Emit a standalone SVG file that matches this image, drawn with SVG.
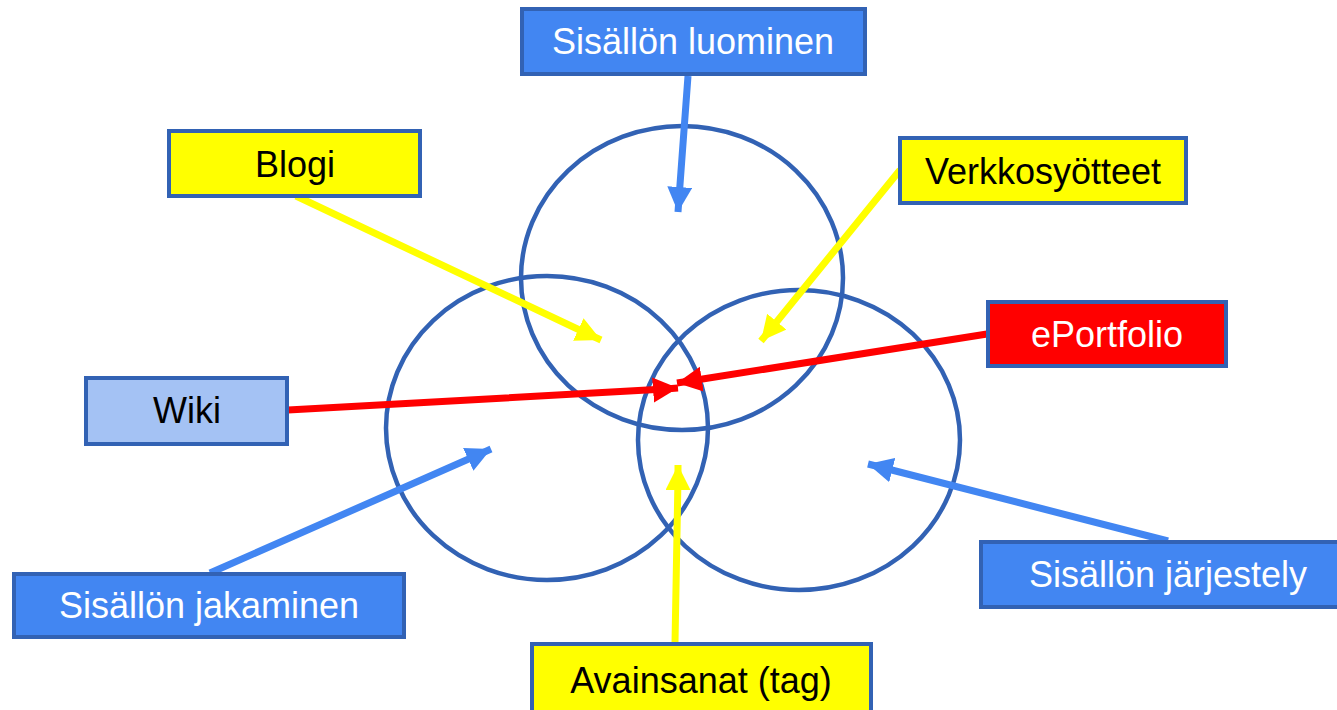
<svg xmlns="http://www.w3.org/2000/svg" width="1337" height="710" viewBox="0 0 1337 710">
  <style>
    .ring { fill: none; stroke: #3262b4; stroke-width: 4.5; }
    .box { stroke: #3262b4; stroke-width: 4; }
    .blue { fill: #4286f2; }
    .yellow { fill: #ffff00; }
    .red { fill: #ff0000; }
    .pale { fill: #a4c2f4; }
    .lbl { font-family: "Liberation Sans", Arial, sans-serif; font-size: 36px; text-anchor: middle; }
    .dark { fill: #000000; }
    .light { fill: #ffffff; }
    .arr { fill: none; stroke-width: 7; }
    .a-blue { stroke: #4286f2; marker-end: url(#head-blue); }
    .a-yellow { stroke: #ffff00; marker-end: url(#head-yellow); }
    .a-red { stroke: #ff0000; marker-end: url(#head-red); }
  </style>
  <defs>
    <marker id="head-blue" markerUnits="userSpaceOnUse" markerWidth="26" markerHeight="26" refX="25" refY="12.5" orient="auto">
      <path d="M0,0 L25,12.5 L0,25 Z" fill="#4286f2"/>
    </marker>
    <marker id="head-yellow" markerUnits="userSpaceOnUse" markerWidth="26" markerHeight="26" refX="25" refY="12.5" orient="auto">
      <path d="M0,0 L25,12.5 L0,25 Z" fill="#ffff00"/>
    </marker>
    <marker id="head-red" markerUnits="userSpaceOnUse" markerWidth="26" markerHeight="26" refX="25" refY="12.5" orient="auto">
      <path d="M0,0 L25,12.5 L0,25 Z" fill="#ff0000"/>
    </marker>
  </defs>

  <!-- three overlapping rings -->
  <g id="rings">
    <ellipse class="ring" cx="682" cy="278" rx="161" ry="152"/>
    <ellipse class="ring" cx="547" cy="428" rx="161" ry="152"/>
    <ellipse class="ring" cx="799" cy="440" rx="161" ry="150"/>
  </g>

  <!-- connectors: line runs under its head, tip sits at the path end -->
  <g id="connectors">
    <path class="arr a-blue" d="M688,76 L679,198 L678,212"/>
    <path class="arr a-yellow" d="M296,196 L588,334 L601,340"/>
    <path class="arr a-yellow" d="M900,170 L770,330 L761,341"/>
    <path class="arr a-red" d="M987,334 L690,381 L677,383"/>
    <path class="arr a-red" d="M288,410 L665,389 L678,388"/>
    <path class="arr a-blue" d="M210,573 L480,454 L491,449"/>
    <path class="arr a-yellow" d="M675,643 L678,478 L678,465"/>
    <path class="arr a-blue" d="M1168,541 L880,467 L868,464"/>
  </g>

  <g id="node-luominen">
    <rect class="box blue" x="522" y="9" width="343" height="65"/>
    <text class="lbl light" x="693" y="54">Sisällön luominen</text>
  </g>
  <g id="node-blogi">
    <rect class="box yellow" x="169" y="131" width="251" height="65"/>
    <text class="lbl dark" x="295" y="177">Blogi</text>
  </g>
  <g id="node-verkkosyotteet">
    <rect class="box yellow" x="900" y="138" width="286" height="65"/>
    <text class="lbl dark" x="1043" y="184">Verkkosyötteet</text>
  </g>
  <g id="node-eportfolio">
    <rect class="box red" x="988" y="302" width="238" height="64"/>
    <text class="lbl light" x="1107" y="347">ePortfolio</text>
  </g>
  <g id="node-wiki">
    <rect class="box pale" x="86" y="378" width="201" height="66"/>
    <text class="lbl dark" x="187" y="423">Wiki</text>
  </g>
  <g id="node-jakaminen">
    <rect class="box blue" x="14" y="574" width="390" height="63"/>
    <text class="lbl light" x="209" y="618">Sisällön jakaminen</text>
  </g>
  <g id="node-jarjestely">
    <rect class="box blue" x="981" y="542" width="360" height="65"/>
    <text class="lbl light" x="1168" y="587">Sisällön järjestely</text>
  </g>
  <g id="node-avainsanat">
    <rect class="box yellow" x="532" y="644" width="339" height="70"/>
    <text class="lbl dark" x="701" y="693">Avainsanat (tag)</text>
  </g>
</svg>
